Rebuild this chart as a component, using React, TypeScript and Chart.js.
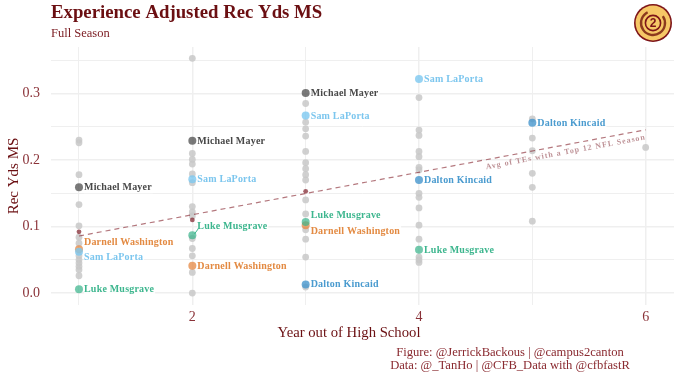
import React, { useEffect, useRef } from "react";
import { Chart, registerables } from "chart.js";

Chart.register(...registerables);

// ---- data ----
const years = [1, 2, 3, 4, 5, 6];
const otherYear1 = [0.23, 0.226, 0.178, 0.133, 0.101, 0.084, 0.075, 0.056, 0.05, 0.045, 0.04, 0.035, 0.026];
const otherYear2 = [0.353, 0.21, 0.201, 0.194, 0.179, 0.166, 0.13, 0.122, 0.116, 0.082, 0.067, 0.056, 0.031, 0.0];
const otherYear3 = [0.285, 0.257, 0.247, 0.236, 0.213, 0.196, 0.187, 0.178, 0.17, 0.14, 0.119, 0.095, 0.081, 0.054, 0.009];
const otherYear4 = [0.294, 0.245, 0.237, 0.213, 0.205, 0.189, 0.185, 0.15, 0.144, 0.128, 0.102, 0.081, 0.054, 0.05, 0.046];
const otherYear5 = [0.262, 0.233, 0.214, 0.18, 0.159, 0.108];
const otherYear6 = [0.219];
const others = [otherYear1, otherYear2, otherYear3, otherYear4, otherYear5, otherYear6];

const mayerValues = [0.159, 0.229, 0.301];
const laportaValues = [0.062, 0.171, 0.267, 0.322];
const kincaidValues = [null, null, 0.013, 0.17, 0.256];
const musgraveValues = [0.0056, 0.087, 0.107, 0.065];
const washingtonValues = [0.066, 0.041, 0.102];

const avgYears = [1, 2, 3];
const avgValues = [0.092, 0.11, 0.153];
const trendYears = [1, 6];
const trendValues = [0.0858, 0.2455];

const titleText = "Experience Adjusted Rec Yds MS";
const subtitleText = "Full Season";
const xTitle = "Year out of High School";
const yTitle = "Rec Yds MS";
const trendLabel = "Avg of TEs with a Top 12 NFL Season";
const captionLines = ["Figure: @JerrickBackous | @campus2canton", "Data: @_TanHo | @CFB_Data with @cfbfastR"];

// ---- styling ----
const SERIF = "'Liberation Serif', 'Times New Roman', serif";
const MAROON = "#6b0f12";
const TICK = "#8a3238";
const players = [
  { name: "Michael Mayer", values: mayerValues, fill: "rgba(70,70,70,0.72)", text: "#484848" },
  { name: "Sam LaPorta", values: laportaValues, fill: "rgba(125,200,240,0.8)", text: "#7cc6ee" },
  { name: "Dalton Kincaid", values: kincaidValues, fill: "rgba(70,150,205,0.8)", text: "#4a9bcf" },
  { name: "Luke Musgrave", values: musgraveValues, fill: "rgba(60,180,140,0.72)", text: "#3db68e" },
  { name: "Darnell Washington", values: washingtonValues, fill: "rgba(230,135,65,0.75)", text: "#e38a42" },
];
// vertical nudges of repelled labels, in pixels: "name|year" -> dy
const labelNudges: Record<string, number> = {
  "Darnell Washington|1": -7,
  "Sam LaPorta|1": 5,
  "Luke Musgrave|2": -9.5,
  "Luke Musgrave|3": -7,
  "Darnell Washington|3": 6,
};

const pointLabels = {
  id: "pointLabels",
  afterDatasetsDraw(chart: any) {
    const { ctx, scales } = chart;
    const x = scales.x;
    const y = scales.y;
    ctx.save();
    ctx.font = `bold 10px ${SERIF}`;
    (ctx as any).letterSpacing = "0.2px";
    ctx.textBaseline = "middle";
    ctx.textAlign = "left";
    players.forEach((p) => {
      p.values.forEach((v, i) => {
        if (v === null) return;
        const year = i + 1;
        const px = x.getPixelForValue(year);
        const py = y.getPixelForValue(v);
        const dy = labelNudges[`${p.name}|${year}`] || 0;
        const tx = px + 5;
        const ty = py + dy;
        const w = ctx.measureText(p.name).width;
        ctx.fillStyle = "rgba(255,255,255,0.85)";
        ctx.fillRect(tx, ty - 6, w + 1, 12);
      });
    });
    players.forEach((p) => {
      p.values.forEach((v, i) => {
        if (v === null) return;
        const year = i + 1;
        const px = x.getPixelForValue(year);
        const py = y.getPixelForValue(v);
        const dy = labelNudges[`${p.name}|${year}`] || 0;
        const ty = py + dy;
        if (Math.abs(dy) > 8) {
          ctx.strokeStyle = p.text;
          ctx.lineWidth = 1;
          ctx.beginPath();
          ctx.moveTo(px + 2, py - 1);
          ctx.lineTo(px + 6, ty + 3);
          ctx.stroke();
        }
        ctx.fillStyle = p.text;
        ctx.fillText(p.name, px + 5, ty + 0.5);
      });
    });
    // trend annotation, following the slope of the trend line
    const x0 = x.getPixelForValue(trendYears[0]);
    const y0 = y.getPixelForValue(trendValues[0]);
    const x1 = x.getPixelForValue(trendYears[1]);
    const y1 = y.getPixelForValue(trendValues[1]);
    ctx.translate(x1, y1 + 7.5);
    ctx.rotate(Math.atan2(y1 - y0, x1 - x0));
    ctx.font = `bold 8px ${SERIF}`;
    (ctx as any).letterSpacing = "0.95px";
    ctx.textAlign = "right";
    ctx.fillStyle = "rgba(122,30,40,0.5)";
    ctx.fillText(trendLabel, 0, 0);
    ctx.restore();

    // x-axis title and caption: both sit off the plot's centre in the reference
    ctx.save();
    ctx.textAlign = "center";
    ctx.textBaseline = "middle";
    ctx.font = `14.7px ${SERIF}`;
    ctx.fillStyle = MAROON;
    ctx.fillText(xTitle, 349, 333);
    ctx.font = `12.6px ${SERIF}`;
    ctx.fillStyle = "#8a2a30";
    captionLines.forEach((line, i) => ctx.fillText(line, 510, 352.5 + i * 13.5));
    ctx.restore();
  },
};

export default function App() {
  const ref = useRef<HTMLCanvasElement | null>(null);
  useEffect(() => {
    if (!ref.current) return;
    const grey = {
      label: "Other TEs",
      data: others.flatMap((vals, i) => vals.map((v) => ({ x: years[i], y: v }))),
      backgroundColor: "rgba(200,200,200,0.85)",
      borderWidth: 0,
      pointRadius: 3.4,
    };
    const playerSets = players.map((p) => ({
      label: p.name,
      data: p.values.map((v, i) => ({ x: years[i], y: v })).filter((d) => d.y !== null),
      backgroundColor: p.fill,
      borderWidth: 0,
      pointRadius: 4,
    }));
    const chart = new Chart(ref.current, {
      type: "scatter",
      data: {
        datasets: [
          {
            label: "Trend",
            data: trendYears.map((x, i) => ({ x, y: trendValues[i] })),
            showLine: true,
            borderColor: "rgba(130,30,40,0.6)",
            borderWidth: 1.2,
            borderDash: [5, 4],
            pointRadius: 0,
            order: 1,
          } as any,
          {
            label: "Average",
            data: avgYears.map((x, i) => ({ x, y: avgValues[i] })),
            backgroundColor: "rgba(125,30,40,0.7)",
            borderWidth: 0,
            pointRadius: 2.4,
            order: 0,
          } as any,
          ...playerSets.map((s) => ({ ...s, order: 2 })),
          { ...grey, order: 3 },
        ],
      },
      options: {
        responsive: false,
        animation: false,
        events: [],
        layout: { padding: { top: 0, right: 6, left: 5, bottom: 36 } },
        plugins: {
          legend: { display: false },
          tooltip: { enabled: false },
          title: {
            display: true,
            text: titleText,
            align: "start",
            fullSize: false,
            color: MAROON,
            font: { family: SERIF, size: 18.8, weight: "bold" },
            padding: { top: 2, bottom: 0 },
          },
          subtitle: {
            display: true,
            text: subtitleText,
            align: "start",
            fullSize: false,
            color: "#7a1a20",
            font: { family: SERIF, size: 12.5 },
            padding: { top: 2, bottom: 5.44 },
          },
        },
        scales: {
          x: {
            type: "linear",
            min: 0.753,
            max: 6.25,
            afterFit: (s: any) => { s.height = 37; },
            grid: {
              color: "#efefef",
              lineWidth: (c: any) => (c.tick && c.tick.value % 2 === 0 ? 1.5 : 1),
              drawTicks: false,
            },
            border: { display: false },
            ticks: {
              stepSize: 1,
              includeBounds: false,
              maxRotation: 0,
              autoSkip: false,
              padding: 4,
              color: TICK,
              font: { family: SERIF, size: 14 },
              callback: (v: any) => (Number(v) % 2 === 0 ? String(v) : ""),
            },
          },
          y: {
            type: "linear",
            min: -0.018,
            max: 0.37,
            afterFit: (s: any) => { s.width = 46; },
            grid: {
              color: "#efefef",
              lineWidth: (c: any) => (c.tick && Math.abs((c.tick.value * 10) % 1) < 0.01 ? 1.4 : 1),
              drawTicks: false,
            },
            border: { display: false },
            ticks: {
              stepSize: 0.05,
              includeBounds: false,
              autoSkip: false,
              padding: 11,
              color: TICK,
              font: { family: SERIF, size: 14 },
              callback: (v: any) => {
                const n = Number(v);
                return Math.abs(Math.round(n * 10) - n * 10) < 1e-6 ? n.toFixed(1) : "";
              },
            },
            title: {
              display: true,
              text: yTitle,
              color: MAROON,
              font: { family: SERIF, size: 15 },
              padding: { top: 0, bottom: 0 },
            },
          },
        },
      } as any,
      plugins: [pointLabels],
    });
    return () => chart.destroy();
  }, []);

  return (
    <div style={{ position: "relative", width: 680, height: 378 }}>
      <style>{"body{margin:0}"}</style>
      <canvas ref={ref} width={680} height={378} style={{ display: "block" }} />
      <svg width={40} height={40} viewBox="0 0 40 40" style={{ position: "absolute", left: 633, top: 3 }}>
        <circle cx={20} cy={20} r={19} fill="#7d1418" />
        <circle cx={20} cy={20} r={17.4} fill="#f6c766" />
        <circle cx={20} cy={20} r={12} fill="none" stroke="#8c3a1e" strokeWidth={2.4} strokeDasharray="58 17.4" transform="rotate(-35 20 20)" />
        <circle cx={20} cy={20} r={7.6} fill="none" stroke="#7d1418" strokeWidth={1.6} />
        <text x={20} y={24.2} textAnchor="middle" fontFamily="'Liberation Sans', sans-serif" fontWeight="bold" fontSize={12} fill="#7d1418">2</text>
      </svg>
    </div>
  );
}
